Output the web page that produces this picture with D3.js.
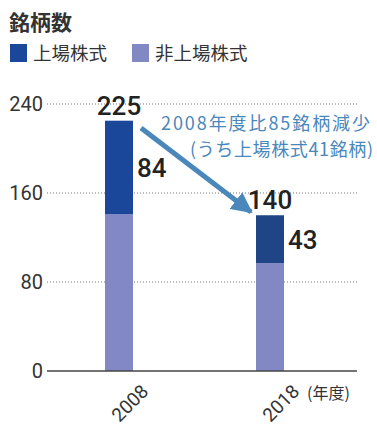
<!DOCTYPE html>
<html>
<head>
<meta charset="utf-8">
<script src="https://cdn.jsdelivr.net/npm/d3@7"></script>
<style>
  html, body { margin: 0; padding: 0; background: #fff; }
  svg { display: block; font-family: Roboto, "Noto Sans CJK JP", sans-serif; }
</style>
</head>
<body>
<svg id="chart" width="377" height="426"></svg>
<script>
// Number of listed issues by fiscal year
const years = ["2008", "2018"];
const listed = [84, 43];          // 上場株式
const unlisted = [141, 97];       // 非上場株式
const totals = [225, 140];
const yTicks = [0, 80, 160, 240];
const seriesNames = ["上場株式", "非上場株式"];
const colors = { listed: ["#1b479b", "#1f4587"], unlisted: "#8288c4", note: "#4a87ba" };

const svg = d3.select("#chart");
const cjk = "'Noto Sans CJK JP', sans-serif";

const x = d3.scalePoint().domain(years).range([119, 270]);
const y = d3.scaleLinear().domain([0, 240]).range([371, 104]);
const barW = 28;

// Title
svg.append("text").attr("x", 9).attr("y", 30)
  .style("font-family", cjk).style("font-size", "21px").style("font-weight", 700)
  .attr("fill", "#333").text("銘柄数");

// Legend
const legend = [
  { name: seriesNames[0], color: colors.listed[0], x: 10 },
  { name: seriesNames[1], color: colors.unlisted, x: 132 }
];
legend.forEach(d => {
  svg.append("rect").attr("x", d.x).attr("y", 44).attr("width", 17).attr("height", 18).attr("fill", d.color);
  svg.append("text").attr("x", d.x + 23).attr("y", 60)
    .style("font-family", cjk).style("font-size", "18.5px").attr("fill", "#333").text(d.name);
});

// Gridlines and y labels
const gridX0 = 47, gridX1 = 357;
yTicks.forEach(t => {
  if (t > 0) {
    svg.append("line").attr("x1", gridX0).attr("x2", gridX1).attr("y1", y(t)).attr("y2", y(t))
      .attr("stroke", "#777").attr("stroke-width", 1).attr("stroke-dasharray", "1,2");
  }
  svg.append("text").attr("x", 43).attr("y", y(t)).attr("dy", "0.36em").attr("text-anchor", "end")
    .style("font-size", "20px").attr("fill", "#333").text(t);
});

// Stacked bars
years.forEach((yr, i) => {
  const cx = x(yr);
  svg.append("rect").attr("x", cx - barW / 2).attr("width", barW)
    .attr("y", y(unlisted[i])).attr("height", y(0) - y(unlisted[i])).attr("fill", colors.unlisted);
  svg.append("rect").attr("x", cx - barW / 2).attr("width", barW)
    .attr("y", y(unlisted[i] + listed[i])).attr("height", y(unlisted[i]) - y(unlisted[i] + listed[i]))
    .attr("fill", colors.listed[i]);
});

// Baseline
svg.append("line").attr("x1", gridX0).attr("x2", gridX1).attr("y1", y(0)).attr("y2", y(0))
  .attr("stroke", "#444").attr("stroke-width", 1.5);

// Value labels
years.forEach((yr, i) => {
  const cx = x(yr);
  svg.append("text").attr("x", cx).attr("y", y(totals[i]) - 6).attr("text-anchor", "middle")
    .style("font-size", "26px").style("font-weight", 500).attr("fill", "#222").text(totals[i]);
  svg.append("text").attr("x", cx + barW / 2 + 4).attr("y", y(unlisted[i] + listed[i] / 2) + 10)
    .style("font-size", "26px").style("font-weight", 500).attr("fill", "#222").text(listed[i]);
});

// X labels rotated
years.forEach(yr => {
  svg.append("text")
    .attr("transform", `translate(${x(yr) + 21},${y(0) + 12}) rotate(-45)`)
    .attr("text-anchor", "end").attr("dy", "0.72em")
    .style("font-size", "19px").attr("fill", "#333").text(yr);
});
svg.append("text").attr("x", 307).attr("y", 399)
  .style("font-family", cjk).style("font-size", "16px").attr("fill", "#333").text("(年度)");

// Arrow showing decrease
const defs = svg.append("defs");
defs.append("marker").attr("id", "head").attr("viewBox", "0 0 10 10")
  .attr("refX", 9).attr("refY", 5).attr("markerWidth", 4.2).attr("markerHeight", 4.2)
  .attr("orient", "auto").attr("markerUnits", "strokeWidth")
  .append("path").attr("d", "M0,0 L10,5 L0,10 Z").attr("fill", colors.note);
svg.append("line").attr("x1", 141).attr("y1", 128).attr("x2", 251).attr("y2", 212)
  .attr("stroke", colors.note).attr("stroke-width", 5).attr("marker-end", "url(#head)");

// Annotation
svg.append("text").attr("x", 161).attr("y", 130)
  .attr("textLength", 209).attr("lengthAdjust", "spacing")
  .style("font-family", cjk).style("font-size", "18px").attr("fill", colors.note).text("2008年度比85銘柄減少");
svg.append("text").attr("x", 190).attr("y", 156)
  .attr("textLength", 183).attr("lengthAdjust", "spacing")
  .style("font-family", cjk).style("font-size", "18px").attr("fill", colors.note).text("(うち上場株式41銘柄)");
</script>
</body>
</html>
